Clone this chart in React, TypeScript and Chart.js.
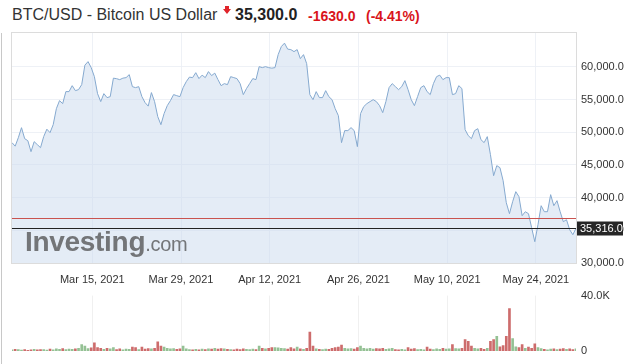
import { useEffect, useRef } from "react";
import { Chart, registerables } from "chart.js";

Chart.register(...registerables);

// Time axis: days after Mar 1, 2021 (half-day samples)
const START_DAY = 1.33;
const STEP_DAYS = 0.5;

const prices = [
  48420, 47880, 49180, 50710, 49030, 48720, 47040, 48570, 48110, 47650,
  49340, 50480, 49950, 51170, 53620, 54850, 54390, 56230, 56230, 57140,
  56380, 56530, 57300, 60280, 60820, 59900, 58520, 55920, 54700, 55920,
  55310, 55460, 58290, 58210, 58060, 58290, 58370, 58830, 56990, 56840,
  56990, 55460, 54540, 54010, 56080, 54700, 52400, 51170, 52860, 54080,
  54850, 55770, 55610, 55460, 56840, 57760, 58450, 58370, 59130, 58220,
  58750, 58370, 59290, 58680, 59060, 58060, 57140, 57450, 57300, 58520,
  58370, 58220, 57450, 55770, 56690, 57450, 58220, 58060, 60050, 59900,
  60050, 59900, 59820, 59900, 61890, 63120, 63650, 62730, 62660, 62350,
  62660, 61280, 61890, 60510, 55770, 55000, 56230, 55310, 55310, 56380,
  55460, 55000, 53620, 52550, 48420, 50260, 50260, 50720, 50260, 47810,
  52860, 53930, 54390, 54700, 55000, 54700, 54080, 53010, 54700, 56840,
  57450, 56990, 56530, 56990, 57910, 56530, 55000, 54080, 55460, 56840,
  57140, 56230, 55770, 57450, 58520, 58750, 58060, 58370, 58370, 55770,
  55920, 57140, 56690, 50410, 49490, 49030, 50260, 50560, 48880, 48420,
  49340, 46580, 43360, 44900, 44590, 42600, 39230, 37550, 39380, 40920,
  40150, 37240, 37850, 37550, 35410, 33260, 35860, 38770, 37850, 37850,
  40460, 38770, 39540, 37850, 36320, 36630, 35100, 34330, 35316,
];

// Volume in thousands
const volumesK = [
  0.8, 1.2, 1.0, 0.6, 1.1, 0.5, 0.9, 1.2, 0.8, 1.0,
  1.1, 0.7, 1.3, 0.9, 1.5, 1.2, 1.8, 1.0, 1.4, 1.2,
  1.6, 2.0, 4.7, 3.5, 1.8, 2.2, 5.9, 2.4, 1.9, 1.2,
  2.0, 1.6, 2.4, 1.0, 1.5, 0.8, 1.4, 1.2, 2.8, 2.4,
  1.0, 2.8, 1.3, 1.8, 1.5, 2.0, 6.6, 3.5, 2.8, 2.0,
  1.6, 1.8, 1.2, 1.5, 3.5, 1.6, 1.0, 0.8, 1.2, 0.9,
  1.3, 1.1, 1.6, 1.4, 1.9, 1.3, 1.7, 1.5, 1.2, 1.0,
  0.9, 1.3, 1.1, 1.6, 1.2, 1.0, 1.4, 1.1, 3.5, 1.9,
  1.5, 2.0, 2.4, 2.4, 2.2, 2.0, 1.8, 1.4, 2.4, 1.5,
  2.8, 1.6, 1.2, 2.0, 13.6, 3.5, 1.6, 1.2, 1.0, 1.4,
  1.2, 2.0, 2.4, 2.8, 4.2, 2.0, 1.5, 1.8, 1.3, 2.4,
  3.5, 2.0, 1.6, 1.9, 1.4, 1.8, 1.5, 1.9, 1.2, 1.6,
  1.9, 1.0, 0.8, 1.2, 0.9, 2.4, 1.4, 1.8, 1.0, 1.2,
  0.9, 2.8, 1.3, 1.0, 1.5, 1.2, 1.9, 1.4, 1.6, 4.7,
  1.8, 1.5, 2.0, 8.2, 7.0, 3.5, 2.0, 1.6, 1.9, 1.2,
  1.9, 7.0, 8.2, 10.6, 3.0, 4.0, 10.6, 30.6, 9.0, 3.0,
  2.4, 4.7, 2.0, 2.8, 1.9, 5.2, 2.4, 1.8, 1.2, 0.9,
  1.4, 1.6, 1.0, 1.3, 1.8, 1.2, 1.5, 1.0, 1.6,
];

const dateTicks = [14, 28, 42, 56, 70, 84];
const dateTickLabels = [
  "Mar 15, 2021",
  "Mar 29, 2021",
  "Apr 12, 2021",
  "Apr 26, 2021",
  "May 10, 2021",
  "May 24, 2021",
];
const priceTicks = [30000, 35000, 40000, 45000, 50000, 55000, 60000];
const volumeTicks = [0, 40];
const PRICE_MIN = 30000;
const PRICE_MAX = 65200;
const VOLUME_MAX = 40;
const prevClose = 36930;
const lastPrice = 35316;

const FONT = 'Arial, "Liberation Sans", sans-serif';

const days = prices.map((_, i) => START_DAY + i * STEP_DAYS);
const X_MIN = days[0];
const X_MAX = days[days.length - 1];

function dateLabel(v: number) {
  const k = dateTicks.indexOf(v);
  return k >= 0 ? dateTickLabels[k] : "";
}

const priceOverlay = {
  id: "priceOverlay",
  afterDraw(chart: any) {
    const { ctx, chartArea: a, scales } = chart;
    const y = scales.y;
    ctx.save();
    // border
    ctx.strokeStyle = "#dcdcdc";
    ctx.lineWidth = 1;
    ctx.strokeRect(a.left - 0.5, a.top - 0.5, a.right - a.left + 1, a.bottom - a.top + 1);
    // previous close line
    const yr = Math.round(y.getPixelForValue(prevClose)) + 0.5;
    ctx.strokeStyle = "#c9534f";
    ctx.beginPath();
    ctx.moveTo(a.left, yr);
    ctx.lineTo(a.right, yr);
    ctx.stroke();
    // last price line
    const yb = Math.round(y.getPixelForValue(lastPrice)) + 0.5;
    ctx.strokeStyle = "#222";
    ctx.beginPath();
    ctx.moveTo(a.left, yb);
    ctx.lineTo(a.right, yb);
    ctx.stroke();
    // last price box
    const txt = lastPrice.toLocaleString("en-US", { minimumFractionDigits: 1 });
    ctx.fillStyle = "#262626";
    ctx.fillRect(a.right + 1, yb - 7, 46, 14);
    ctx.fillStyle = "#fff";
    ctx.font = "11px " + FONT;
    ctx.textBaseline = "middle";
    ctx.textAlign = "left";
    ctx.fillText(txt, a.right + 4, yb + 0.5);
    ctx.restore();
  },
};

function PriceChart() {
  const ref = useRef<HTMLCanvasElement>(null);
  useEffect(() => {
    const chart = new Chart(ref.current!, {
      type: "line",
      data: {
        datasets: [
          {
            data: prices.map((p, i) => ({ x: days[i], y: p })),
            borderColor: "#85a9cf",
            borderWidth: 1,
            backgroundColor: "rgba(205,221,238,0.55)",
            fill: "start",
            pointRadius: 0,
            tension: 0,
          },
        ],
      },
      options: {
        responsive: false,
        animation: false,
        events: [],
        layout: { padding: { left: 12, top: 33, right: 0, bottom: 0 } },
        plugins: { legend: { display: false }, tooltip: { enabled: false } },
        scales: {
          x: {
            type: "linear",
            min: X_MIN,
            max: X_MAX,
            z: 1,
            afterBuildTicks: (s: any) => {
              s.ticks = dateTicks.map((v) => ({ value: v }));
            },
            afterFit: (s: any) => {
              s.height = 27;
            },
            ticks: {
              autoSkip: false,
              maxRotation: 0,
              padding: 10,
              color: "#333",
              font: { family: FONT, size: 11 },
              callback: (v: any) => dateLabel(Number(v)),
            },
            grid: { color: "rgba(236,240,245,0.9)", drawTicks: false },
            border: { display: false },
          },
          y: {
            position: "right",
            min: PRICE_MIN,
            max: PRICE_MAX,
            z: 1,
            afterBuildTicks: (s: any) => {
              s.ticks = priceTicks.map((v) => ({ value: v }));
            },
            afterFit: (s: any) => {
              s.width = 57;
            },
            ticks: {
              padding: 5,
              color: "#333",
              font: { family: FONT, size: 11 },
              callback: (v: any) =>
                Number(v).toLocaleString("en-US", { minimumFractionDigits: 1 }),
            },
            grid: { color: "rgba(236,240,245,0.9)", drawTicks: false },
            border: { display: false },
          },
        },
      },
      plugins: [priceOverlay],
    } as any);
    return () => chart.destroy();
  }, []);
  return (
    <canvas
      ref={ref}
      width={633}
      height={290}
      style={{ position: "absolute", left: 0, top: 0, width: 633, height: 290 }}
    />
  );
}

function VolumeChart() {
  const ref = useRef<HTMLCanvasElement>(null);
  useEffect(() => {
    const colors = volumesK.map((_, i) =>
      i > 0 && prices[i] < prices[i - 1] ? "rgba(196,82,82,0.85)" : "rgba(112,172,112,0.75)"
    );
    const chart = new Chart(ref.current!, {
      type: "bar",
      data: {
        datasets: [
          {
            data: volumesK.map((v, i) => ({ x: days[i], y: v })),
            backgroundColor: colors,
            barThickness: 2,
            borderWidth: 0,
          },
        ],
      },
      options: {
        responsive: false,
        animation: false,
        events: [],
        layout: { padding: { left: 12, top: 8, right: 0, bottom: 0 } },
        plugins: { legend: { display: false }, tooltip: { enabled: false } },
        scales: {
          x: {
            type: "linear",
            min: X_MIN,
            max: X_MAX,
            offset: false,
            afterBuildTicks: (s: any) => {
              s.ticks = dateTicks.map((v) => ({ value: v }));
            },
            afterFit: (s: any) => {
              s.height = 13;
            },
            ticks: { display: false },
            grid: { color: "#f0f0f0", drawTicks: false, offset: false },
            border: { display: false },
          },
          y: {
            position: "right",
            min: 0,
            max: VOLUME_MAX,
            afterBuildTicks: (s: any) => {
              s.ticks = volumeTicks.map((v) => ({ value: v }));
            },
            afterFit: (s: any) => {
              s.width = 57;
            },
            ticks: {
              padding: 5,
              color: "#333",
              font: { family: FONT, size: 11 },
              callback: (v: any) => (Number(v) === 0 ? "0" : Number(v).toFixed(1) + "K"),
            },
            grid: { display: false, drawTicks: false },
            border: { display: false },
          },
        },
      },
    } as any);
    return () => chart.destroy();
  }, []);
  return (
    <canvas
      ref={ref}
      width={633}
      height={80}
      style={{ position: "absolute", left: 0, top: 284, width: 633, height: 80 }}
    />
  );
}

export default function App() {
  return (
    <div
      style={{
        position: "absolute",
        left: 0,
        top: 0,
        width: 633,
        height: 364,
        background: "#fff",
        overflow: "hidden",
        fontFamily: FONT,
      }}
    >
      <span style={{ position: "absolute", left: 12, top: 6, fontSize: 16, color: "#333", whiteSpace: "nowrap" }}>
        BTC/USD - Bitcoin US Dollar
      </span>
      <svg style={{ position: "absolute", left: 223, top: 6 }} width="8" height="9" viewBox="0 0 8 9">
        <polygon points="2,0 6,0 6,3 8,3 4,8 0,3 2,3" fill="#e0242a" />
      </svg>
      <span style={{ position: "absolute", left: 235, top: 6, fontSize: 16, fontWeight: "bold", color: "#222", whiteSpace: "nowrap" }}>
        35,300.0
      </span>
      <span style={{ position: "absolute", left: 308, top: 8, fontSize: 14, fontWeight: "bold", color: "#d9141b", whiteSpace: "nowrap" }}>
        -1630.0
      </span>
      <span style={{ position: "absolute", left: 366, top: 8, fontSize: 14, fontWeight: "bold", color: "#d9141b", whiteSpace: "nowrap" }}>
        (-4.41%)
      </span>
      <div style={{ position: "absolute", left: 1, top: 33, width: 1, height: 331, background: "#c8c8c8" }} />
      <PriceChart />
      <VolumeChart />
      <span
        style={{
          position: "absolute",
          left: 25,
          top: 226,
          fontSize: 28,
          fontWeight: "bold",
          color: "#737578",
          whiteSpace: "nowrap",
          letterSpacing: -0.3,
        }}
      >
        Investing
        <span style={{ fontSize: 20, fontWeight: "normal" }}>.com</span>
      </span>
    </div>
  );
}
